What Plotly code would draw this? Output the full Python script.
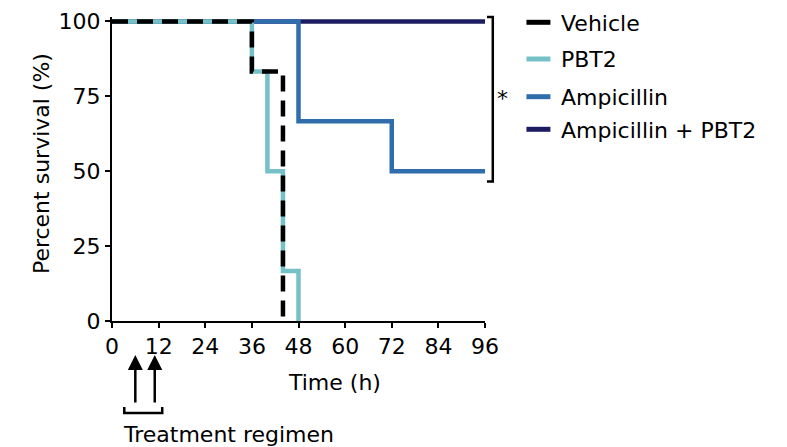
import plotly.graph_objects as go

# ---- data ----
series_names = ["Vehicle", "PBT2", "Ampicillin", "Ampicillin + PBT2"]
vehicle_t = [0, 36, 44]
vehicle_s = [100, 83.3, 0]
pbt2_t = [0, 36, 40, 44, 48]
pbt2_s = [100, 83.3, 50, 16.7, 0]
amp_t = [0, 48, 72, 96]
amp_s = [100, 66.7, 50, 50]
combo_t = [0, 96]
combo_s = [100, 100]
x_ticks = [0, 12, 24, 36, 48, 60, 72, 84, 96]
y_ticks = [0, 25, 50, 75, 100]
treatment_times = [6, 11]

colors = {"Vehicle": "#000000", "PBT2": "#76c1c7",
          "Ampicillin": "#2f6dad", "Ampicillin + PBT2": "#1b1c62"}
dashes = {"Vehicle": "16px,9px", "PBT2": "solid", "Ampicillin": "solid",
          "Ampicillin + PBT2": "solid"}
data = {"Vehicle": (vehicle_t, vehicle_s), "PBT2": (pbt2_t, pbt2_s),
        "Ampicillin": (amp_t, amp_s), "Ampicillin + PBT2": (combo_t, combo_s)}

FONT = "DejaVu Sans, Liberation Sans, Arial, sans-serif"
FS = 22
OFF = 8  # page body margin
W, H = 787 - OFF, 447 - OFF
L, R_px, B_px = 112, 485.5, 321  # target pixel positions in window
ymax = 101.5
ppu = (B_px - 21.5) / 100.0
T_px = B_px - ymax * ppu


def px(xp):
    return (xp - L) / (R_px - L)


def py(yp):
    return (B_px - yp) / (B_px - T_px)


fig = go.Figure()
for name in reversed(series_names):
    t, s = data[name]
    fig.add_trace(go.Scatter(
        x=t, y=s, mode="lines", name=name, line_shape="hv",
        line=dict(color=colors[name], width=4.5, dash=dashes[name]),
        showlegend=False))

shapes = []
annotations = []
# custom legend
legend_y = [22.3, 59, 96.7, 129.3]
for name, ly in zip(series_names, legend_y):
    shapes.append(dict(type="line", xref="paper", yref="paper",
                       x0=px(527), x1=px(551), y0=py(ly), y1=py(ly),
                       line=dict(color=colors[name], width=5)))
    annotations.append(dict(text=name, xref="paper", yref="paper",
                            x=px(560), y=py(ly + 1), xanchor="left", yanchor="middle",
                            showarrow=False, font=dict(family=FONT, size=FS, color="black")))

# significance bracket
shapes.append(dict(type="path", xref="paper", yref="paper",
                   path=f"M {px(487.5)},{py(17)} L {px(493.3)},{py(17)} L {px(493.3)},{py(181.5)} L {px(487.5)},{py(181.5)}",
                   line=dict(color="black", width=2.5)))
annotations.append(dict(text="*", xref="paper", yref="paper", x=px(503), y=py(99),
                        xanchor="center", yanchor="middle", showarrow=False,
                        font=dict(family=FONT, size=FS, color="black")))

# treatment arrows
for tt in treatment_times:
    annotations.append(dict(text="", xref="x", yref="paper", x=tt, y=py(355),
                            ax=0, ay=49, showarrow=True, arrowhead=2, arrowsize=1.2,
                            arrowwidth=2.5, arrowcolor="black"))
shapes.append(dict(type="path", xref="paper", yref="paper",
                   path=f"M {px(124.3)},{py(407)} L {px(124.3)},{py(413)} L {px(162.3)},{py(413)} L {px(162.3)},{py(407)}",
                   line=dict(color="black", width=2.5)))
annotations.append(dict(text="Treatment regimen", xref="paper", yref="paper",
                        x=px(121), y=py(434), xanchor="left", yanchor="middle",
                        showarrow=False, font=dict(family=FONT, size=FS, color="black")))

# axis titles
annotations.append(dict(text="Time (h)", xref="paper", yref="paper",
                        x=px(335), y=py(382), xanchor="center", yanchor="middle",
                        showarrow=False, font=dict(family=FONT, size=FS, color="black")))
annotations.append(dict(text="Percent survival (%)", xref="paper", yref="paper",
                        x=px(42), y=py(164), xanchor="center", yanchor="middle",
                        textangle=-90, showarrow=False,
                        font=dict(family=FONT, size=FS, color="black")))

fig.update_layout(
    width=W, height=H,
    margin=dict(l=L - OFF, r=W - (R_px - OFF), t=T_px - OFF, b=H - (B_px - OFF), pad=0,
                autoexpand=False),
    plot_bgcolor="white", paper_bgcolor="white",
    font=dict(family=FONT, size=FS, color="black"),
    shapes=shapes, annotations=annotations, showlegend=False,
)
axis_style = dict(ticks="outside", ticklen=5, tickwidth=2, tickcolor="black",
                  showline=True, linewidth=2, linecolor="black", showgrid=False,
                  zeroline=False, ticklabeloverflow="allow", automargin=False,
                  tickfont=dict(family=FONT, size=FS, color="black"))
fig.update_xaxes(range=[0, 96], tickvals=x_ticks, **axis_style)
fig.update_yaxes(range=[0, ymax], tickvals=y_ticks, **axis_style)

fig.write_html("out.html")
